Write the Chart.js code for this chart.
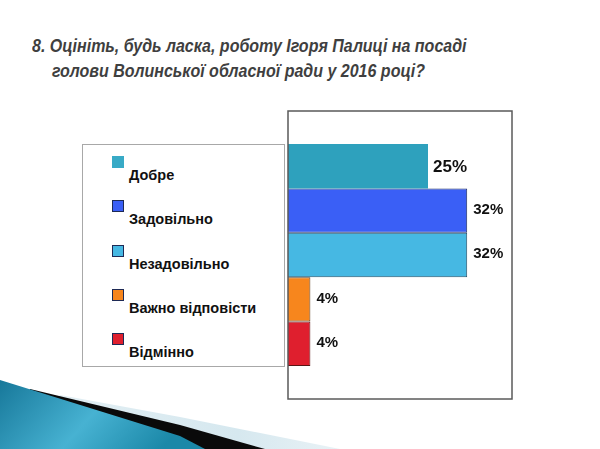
<!DOCTYPE html>
<html>
<head>
<meta charset="utf-8">
<script src="https://cdn.jsdelivr.net/npm/chart.js@4"></script>
<style>
  html, body { margin: 0; padding: 0; background: #fff; }
  #page { position: relative; width: 600px; height: 449px; overflow: hidden; font-family: "Liberation Sans", Arial, sans-serif; }
  #deco { position: absolute; left: 0; top: 0; }
  #title { position: absolute; left: 32px; top: 33px; font-size: 18.5px; font-weight: bold; font-style: italic; color: #3f3f3f; line-height: 25px; white-space: nowrap; transform: scaleX(0.865); transform-origin: 0 0; }
  #title .l2 { padding-left: 23px; }
  #legend { position: absolute; left: 82px; top: 144px; width: 203px; height: 223px; border: 1px solid #a8a8a8; box-sizing: border-box; }
  .item { position: absolute; left: 29px; font-size: 14.5px; font-weight: bold; color: #111; white-space: nowrap; }
  .item .sw { position: absolute; left: 0; top: -11px; width: 10px; height: 10px; border: 1px solid #1e2a55; }
  .item span.t { position: absolute; left: 17px; top: 0; }
  #chart { position: absolute; left: 0; top: 0; }
</style>
</head>
<body>
<div id="page">
  <svg id="deco" width="600" height="449">
    <defs>
      <linearGradient id="tg" x1="0" y1="0" x2="1" y2="0.3">
        <stop offset="0" stop-color="#17789a"/>
        <stop offset="0.55" stop-color="#47b2d2"/>
        <stop offset="1" stop-color="#1b88a8"/>
      </linearGradient>
      <linearGradient id="pg" x1="0" y1="0" x2="1" y2="0">
        <stop offset="0" stop-color="#e6f1f5"/>
        <stop offset="0.7" stop-color="#d6e8ef"/>
        <stop offset="1" stop-color="#e9f2f6"/>
      </linearGradient>
    </defs>
    <polygon points="60,395 180,417 340,449 0,449" fill="url(#pg)"/>
    <polygon points="30,389 180,425 265,449 0,449" fill="#0a0a0a"/>
    <polygon points="0,380 180,436 205,449 0,449" fill="url(#tg)"/>
  </svg>
  <div id="title">8. Оцініть, будь ласка, роботу Ігоря Палиці на посаді<br><span class="l2">голови Волинської обласної ради у 2016 році?</span></div>
  <div id="legend"></div>
  <canvas id="chart" width="600" height="449"></canvas>
</div>
<script>
const categories = ["Добре", "Задовільно", "Незадовільно", "Важно відповісти", "Відмінно"];
const values = [25, 32, 32, 4, 4];
const valueLabels = ["25%", "32%", "32%", "4%", "4%"];

const fillColors = ["#2ea1bd", "#3a5ff6", "#46b8e3", "#f7861d", "#df1f2e"];
const swatchColors = ["#38aac6", "#3a5ff6", "#46b8e3", "#f7861d", "#df1f2e"];
const edgeColors = ["#2ea1bd", "#1f2d66", "#24506a", "#5a3a1a", "#5a1515"];

// legend on the left, built from the same arrays
const legend = document.getElementById("legend");
const rowY = [31, 75, 120, 164, 208];
categories.forEach((name, i) => {
  const div = document.createElement("div");
  div.className = "item";
  div.style.top = (rowY[i] - 9) + "px";
  const sw = document.createElement("div");
  sw.className = "sw";
  sw.style.background = swatchColors[i];
  sw.style.borderColor = i === 0 ? swatchColors[i] : "#1e2a55";
  const t = document.createElement("span");
  t.className = "t";
  t.textContent = name;
  div.appendChild(sw);
  div.appendChild(t);
  legend.appendChild(div);
});

// frame round the plot + value labels
const framePlugin = {
  id: "frame",
  afterDraw(chart) {
    const { ctx, chartArea: a } = chart;
    ctx.save();
    ctx.strokeStyle = "#5a5a5a";
    ctx.lineWidth = 1.5;
    ctx.strokeRect(a.left, a.top, a.right - a.left, a.bottom - a.top);
    ctx.fillStyle = "#111";
    ctx.textBaseline = "middle";
    chart.data.datasets.forEach((ds, i) => {
      const bar = chart.getDatasetMeta(i).data[0];
      ctx.font = "bold " + (i === 0 ? 17 : 15) + "px 'Liberation Sans', Arial, sans-serif";
      const gap = i === 0 ? 5 : 6;
      ctx.fillText(valueLabels[i], bar.x + gap, bar.y + (i === 0 ? 1 : -1));
    });
    ctx.restore();
  }
};

new Chart(document.getElementById("chart"), {
  type: "bar",
  data: {
    labels: [""],
    datasets: categories.map((name, i) => ({
      label: name,
      data: [values[i]],
      backgroundColor: fillColors[i],
      borderColor: edgeColors[i],
      borderWidth: i === 0 ? 0 : 1,
      categoryPercentage: 0.771,
      barPercentage: 1
    }))
  },
  options: {
    indexAxis: "y",
    responsive: false,
    animation: false,
    layout: { padding: { left: 288, top: 111, right: 88, bottom: 50 } },
    plugins: { legend: { display: false }, tooltip: { enabled: false } },
    scales: {
      x: { display: false, min: 0, max: 40 },
      y: { display: false }
    }
  },
  plugins: [framePlugin]
});
</script>
</body>
</html>
